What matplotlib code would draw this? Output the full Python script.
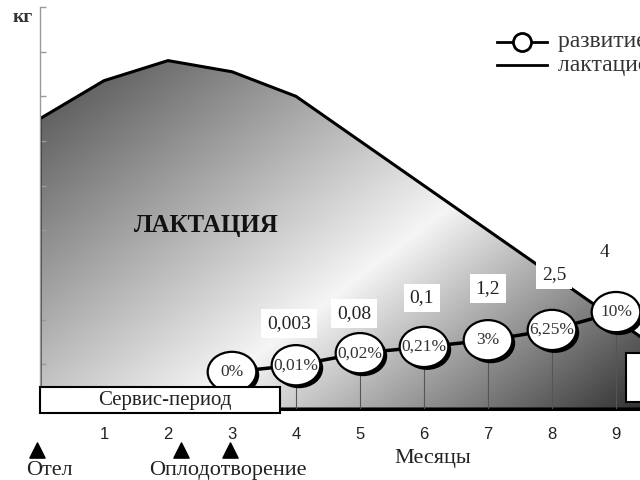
import numpy as np
import matplotlib
matplotlib.use("Agg")
import matplotlib.pyplot as plt
from matplotlib.patches import Ellipse, Rectangle, Polygon
from matplotlib.lines import Line2D

# ---------------- data ----------------
lact_months = [0, 1, 2, 3, 4, 5, 6, 7, 8, 9, 10]
lactation = [6.5, 7.35, 7.8, 7.55, 7.0, 6.0, 5.0, 4.0, 3.0, 2.0, 1.0]

dev_months = [3, 4, 5, 6, 7, 8, 9]
dev_level = [0.83, 0.98, 1.25, 1.39, 1.54, 1.77, 2.17]
dev_percent = ['0%', '0,01%', '0,02%', '0,21%', '3%', '6,25%', '10%']

weight_months = [4, 5, 6, 7, 8, 9]
weight_kg = ['0,003', '0,08', '0,1', '1,2', '2,5', '4']

tick_months = [1, 2, 3, 4, 5, 6, 7, 8, 9]
service_period = (0.0, 3.75)
dry_period_start = 9.15
event_months = [-0.05, 2.2, 2.97]

# layout helpers (pixel offsets of weight labels from circle centres)
weight_dy = [42, 40, 49, 52, 55, 60]
weight_dx = [-7, -6, -2, 0, 2, -11]

SERIF = ['Liberation Serif', 'DejaVu Serif']
SANS = ['Liberation Sans', 'DejaVu Sans']

fig = plt.figure(figsize=(6.4, 4.8), dpi=100)
ax = fig.add_axes([40 / 640, 71 / 480, 640 / 640, 402 / 480])
ax.set_xlim(0, 10)
ax.set_ylim(0, 9)

# ---------------- gradient-filled lactation area ----------------
xs = np.linspace(0, 10, 500)
ys = np.linspace(0, 9, 400)
X, Y = np.meshgrid(xs, ys)
px = X * 64.0
py = (409 - Y * 44.7) - 60.0
t = (px * 210 + py * 270) / 220230.0
gray = np.interp(t, [0, 0.57, 1.0], [0.30, 0.96, 0.20])
im = ax.imshow(gray, cmap='gray', vmin=0, vmax=1, extent=[0, 10, 0, 9],
               origin='lower', aspect='auto', zorder=1, interpolation='bilinear')
verts = [(lact_months[0], 0)] + list(zip(lact_months, lactation)) + [(lact_months[-1], 0)]
poly = Polygon(verts, closed=True, facecolor='none', edgecolor='black',
               lw=2.2, zorder=2, joinstyle='miter')
ax.add_patch(poly)
im.set_clip_path(poly)

ax.text(2.6, 4.1, 'ЛАКТАЦИЯ', fontsize=18, fontweight='bold', family=SERIF,
        ha='center', va='center', color='#111111', zorder=3)

# ---------------- fetal development ----------------
ax.vlines(dev_months[1:], 0, dev_level[1:], color='#555555', lw=0.8, zorder=3)
ax.plot(dev_months, dev_level, color='black', lw=2.5, zorder=4)
for m, v, lab in zip(dev_months, dev_level, dev_percent):
    ax.add_patch(Ellipse((m + 0.045, v - 0.065), 0.76, 0.9, fc='black', ec='none', zorder=5))
    ax.add_patch(Ellipse((m, v), 0.76, 0.9, fc='white', ec='black', lw=1.6, zorder=6))
    ax.text(m, v, lab, fontsize=12.5, family=SERIF, ha='center', va='center',
            color='#333333', zorder=7)

lvl = dict(zip(dev_months, dev_level))
for m, w, dx, dy in zip(weight_months, weight_kg, weight_dx, weight_dy):
    ax.annotate(w, (m, lvl[m]), xytext=(dx, dy), textcoords='offset pixels',
                fontsize=14, family=SERIF, ha='center', va='center', color='#222222',
                bbox=dict(boxstyle='square,pad=0.3', fc='white', ec='none'), zorder=7)

# ---------------- period boxes ----------------
ax.add_patch(Rectangle((service_period[0], -0.09), service_period[1] - service_period[0], 0.58,
                       fc='white', ec='black', lw=1.5, zorder=8, clip_on=False))
ax.text(1.95, 0.2, 'Сервис-период', fontsize=15, family=SERIF, ha='center',
        va='center', color='#222222', zorder=9)
ax.add_patch(Rectangle((dry_period_start, 0.16), 2.0, 1.09, fc='white', ec='black',
                       lw=1.5, zorder=8))

# ---------------- axes styling ----------------
for s in ['top', 'right']:
    ax.spines[s].set_visible(False)
ax.spines['left'].set_color('#9a9a9a')
ax.spines['left'].set_linewidth(1.0)
ax.spines['bottom'].set_color('black')
ax.spines['bottom'].set_linewidth(2.2)
ax.spines['bottom'].set_zorder(2.5)
ax.set_yticks(range(1, 10))
ax.set_yticklabels([])
ax.tick_params(axis='y', direction='in', length=4, color='#9a9a9a', width=1)
ax.set_xticks(tick_months)
ax.set_xticklabels([str(m) for m in tick_months], fontsize=12, family=SANS, color='#222222')
ax.tick_params(axis='x', length=0, pad=13)

ax.text(6.14, -1.1, 'Месяцы', fontsize=16, family=SERIF, ha='center', va='center',
        color='#222222', clip_on=False)

# events
ax.scatter(event_months, [-0.92] * len(event_months), marker='^', s=120, c='black',
           clip_on=False, zorder=10)
ax.text(0.15, -1.37, 'Отел', fontsize=16, family=SERIF, ha='center', va='center',
        color='#222222', clip_on=False)
ax.text(2.93, -1.37, 'Оплодотворение', fontsize=16, family=SERIF, ha='center', va='center',
        color='#222222', clip_on=False)

# y unit label
fig.text(23 / 640, 1 - 18 / 480, 'кг', fontsize=14, fontweight='bold', family=SERIF,
         ha='center', va='center', color='#333333')

# ---------------- legend ----------------
y1 = 1 - 42 / 480
y2 = 1 - 65 / 480
fig.add_artist(Line2D([497 / 640, 547 / 640], [y1, y1], color='black', lw=2))
fig.add_artist(Line2D([522 / 640], [y1], marker='o', ms=13, mfc='white', mec='black', mew=2))
fig.add_artist(Line2D([497 / 640, 547 / 640], [y2, y2], color='black', lw=2))
fig.text(558 / 640, y1, 'развитие плода', fontsize=17, family=SERIF, ha='left',
         va='center', color='#333333')
fig.text(558 / 640, y2, 'лактационная кривая', fontsize=17, family=SERIF, ha='left',
         va='center', color='#333333')

fig.savefig('out.png', dpi=100)
